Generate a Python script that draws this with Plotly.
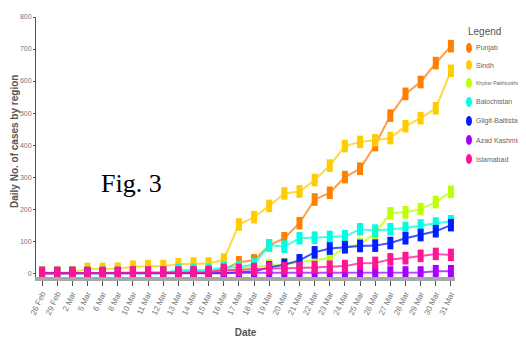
import plotly.graph_objects as go

dates = ["26 Feb", "29 Feb", "2 Mar", "5 Mar", "6 Mar", "8 Mar", "10 Mar", "11 Mar",
         "12 Mar", "13 Mar", "14 Mar", "15 Mar", "16 Mar", "17 Mar", "18 Mar", "19 Mar",
         "20 Mar", "21 Mar", "22 Mar", "23 Mar", "24 Mar", "25 Mar", "26 Mar", "27 Mar",
         "28 Mar", "29 Mar", "30 Mar", "31 Mar"]

punjab = [0, 0, 0, 0, 0, 0, 0, 0, 0, 0, 1, 2, 12, 34, 40, 87, 109, 156, 230, 251,
          300, 326, 400, 492, 560, 597, 656, 709]
sindh = [2, 2, 3, 13, 13, 14, 20, 22, 22, 28, 30, 30, 42, 152, 175, 210, 249, 255,
         291, 336, 397, 410, 415, 422, 459, 484, 515, 632]
kp = [0, 0, 0, 0, 0, 0, 0, 0, 0, 0, 0, 0, 1, 15, 19, 25, 28, 34, 40, 47, 81, 90,
      125, 187, 190, 200, 222, 254]
balochistan = [0, 0, 0, 0, 0, 0, 0, 0, 0, 10, 10, 10, 17, 19, 27, 87, 83, 109, 111,
               113, 115, 137, 133, 137, 141, 149, 155, 162]
gb = [0, 0, 0, 0, 0, 0, 0, 0, 0, 0, 0, 0, 0, 3, 5, 18, 26, 40, 65, 77, 81, 85, 86,
      94, 109, 119, 131, 150]
ajk = [0, 0, 0, 0, 0, 0, 0, 0, 0, 0, 0, 0, 0, 0, 0, 0, 0, 0, 0, 1, 1, 1, 1, 2, 2,
       2, 6, 6]
islamabad = [0, 0, 0, 0, 0, 0, 2, 2, 2, 2, 3, 4, 10, 10, 13, 15, 15, 16, 19, 20, 22,
             31, 32, 43, 47, 54, 60, 57]

series = [
    ("Punjab", punjab, "255,127,0"),
    ("Sindh", sindh, "255,204,0"),
    ("Khyber Pakhtunkhwa", kp, "190,255,0"),
    ("Balochistan", balochistan, "0,255,225"),
    ("Gilgit-Baltistan", gb, "0,30,255"),
    ("Azad Kashmir", ajk, "165,0,255"),
    ("Islamabad", islamabad, "255,20,150"),
]
legend_title = "Legend"
y_title = "Daily No. of cases by region"
x_title = "Date"

SANS = "Liberation Sans"

# The page body has an 8px margin, so the figure is sized to fit the window
OFF = 8
W, H = 526 - OFF, 346 - OFF
L, R, T, B = 36 - OFF, 71, 17 - OFF, 69
pw, ph = W - L - R, H - T - B


def px2x(px):  # page pixel -> paper x
    return (px - OFF - L) / pw


def px2y(py):  # page pixel -> paper y
    return (H - B - (py - OFF)) / ph


fig = go.Figure()
for name, vals, rgb in series:
    fig.add_trace(go.Scatter(
        x=dates, y=vals, mode="lines+markers", name=name, showlegend=False,
        line=dict(color=f"rgba({rgb},0.75)", width=2),
        marker=dict(symbol="line-ns-open", size=9, color=f"rgb({rgb})",
                    line=dict(width=6, color=f"rgb({rgb})")),
    ))

# Legend (text + oval keys to the right of the plot)
fig.add_annotation(text=legend_title, x=px2x(466), y=px2y(31), xref="paper", yref="paper",
                   xanchor="left", yanchor="middle", showarrow=False,
                   font=dict(family=SANS, size=10, color="#555"))
item_y = [48, 65, 83, 102, 121, 140, 159]
for (name, vals, rgb), py in zip(series, item_y):
    fig.add_shape(type="circle", xref="paper", yref="paper",
                  x0=px2x(466), x1=px2x(472), y0=px2y(py + 5), y1=px2y(py - 5),
                  fillcolor=f"rgb({rgb})", line=dict(width=0))
    size = 5 if len(name) > 16 else 7
    fig.add_annotation(text=name, x=px2x(474), y=px2y(py), xref="paper", yref="paper",
                       xanchor="left", yanchor="middle", showarrow=False,
                       font=dict(family=SANS, size=size, color="#666"))

# y-axis title placed at the reference's left position
fig.add_annotation(text=f"<b>{y_title}</b>", x=px2x(14), y=px2y(142), xref="paper",
                   yref="paper", xanchor="center", yanchor="middle", showarrow=False,
                   textangle=-90, font=dict(family=SANS, size=10, color="#555"))

fig.add_annotation(text="Fig. 3", x=px2x(131), y=px2y(184), xref="paper", yref="paper",
                   xanchor="center", yanchor="middle", showarrow=False,
                   font=dict(family="Liberation Serif, Times New Roman, serif",
                             size=26, color="black"))

fig.update_layout(
    width=W, height=H,
    margin=dict(l=L, r=R, t=T, b=B, autoexpand=False),
    paper_bgcolor="white", plot_bgcolor="white",
    font=dict(family=SANS, color="#666"),
    showlegend=False,
    xaxis=dict(
        type="category", range=[-0.4, 27.27],
        showgrid=False, zeroline=False,
        showline=True, linecolor="#a8a8a8", linewidth=4,
        ticks="outside", ticklen=5, tickcolor="#555", tickwidth=1,
        tickangle=-65, tickfont=dict(size=8, color="#777"),
        title=dict(text=f"<b>{x_title}</b>", font=dict(size=10, color="#555"), standoff=14),
    ),
    yaxis=dict(
        range=[-12, 800], dtick=100,
        showgrid=False, zeroline=False,
        showline=True, linecolor="#555", linewidth=1,
        ticks="outside", ticklen=2, tickcolor="#555",
        tickfont=dict(size=7, color="#777"),
    ),
)

fig.write_html("out.html")
